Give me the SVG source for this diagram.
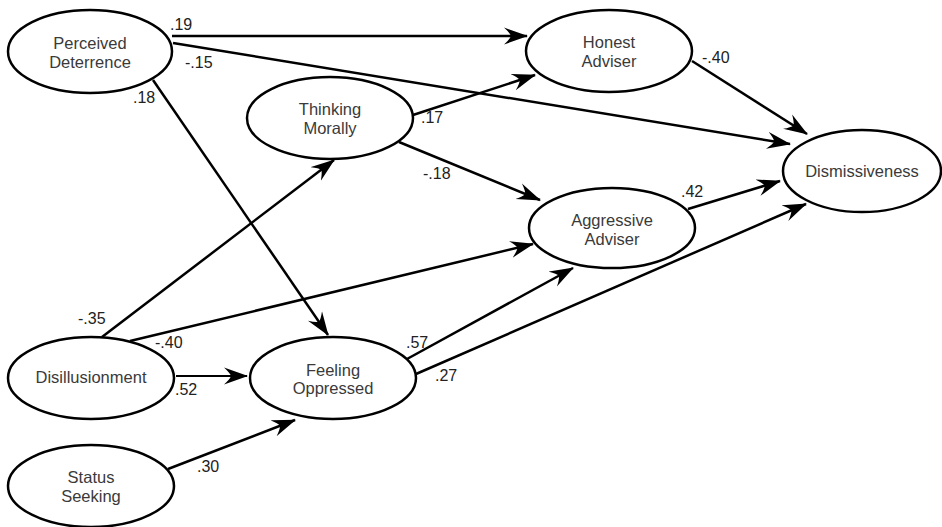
<svg xmlns="http://www.w3.org/2000/svg" width="942" height="527" viewBox="0 0 942 527">
<defs>
<marker id="ah" markerUnits="userSpaceOnUse" viewBox="0 0 24 18" refX="23" refY="9" markerWidth="24" markerHeight="18" orient="auto">
<path d="M24,9 L0,0.5 Q6,6 7,9 Q6,12 0,17.5 Z" fill="#000"/>
</marker>
<style>
.n ellipse{fill:#fff;stroke:#000;stroke-width:2.5}
.n text{font-family:"Liberation Sans",Arial,sans-serif;font-size:16.5px;fill:#3a3a3a;text-anchor:middle}
#edges line{stroke:#000;stroke-width:2.5;fill:none;marker-end:url(#ah)}
#edges line.thin{stroke-width:2}
#labels text{font-family:"Liberation Sans",Arial,sans-serif;font-size:16px;fill:#222}
</style>
</defs>
<rect width="942" height="527" fill="#fff"/>
<g id="edges">
<line x1="172" y1="36" x2="527" y2="36"/>
<line x1="173" y1="43" x2="790" y2="144"/>
<line x1="153" y1="80" x2="328" y2="335"/>
<line x1="413" y1="115" x2="535" y2="75"/>
<line x1="399" y1="142" x2="540" y2="200"/>
<line x1="692" y1="61" x2="807" y2="134"/>
<line x1="688" y1="209" x2="780" y2="181"/>
<line x1="416" y1="374" x2="806" y2="204"/>
<line x1="407" y1="359" x2="573" y2="268"/>
<line x1="102" y1="337" x2="334" y2="160"/>
<line x1="130" y1="341" x2="533" y2="244"/>
<line class="thin" x1="176" y1="376" x2="247" y2="376"/>
<line x1="168" y1="469" x2="295" y2="420"/>
</g>
<g id="node-perceived-deterrence" class="n">
<ellipse cx="90" cy="51.5" rx="82" ry="41.5"/>
<text x="90" y="49">Perceived</text>
<text x="90" y="68">Deterrence</text>
</g>
<g id="node-honest-adviser" class="n">
<ellipse cx="609" cy="51" rx="83" ry="41"/>
<text x="609" y="48">Honest</text>
<text x="609" y="67">Adviser</text>
</g>
<g id="node-thinking-morally" class="n">
<ellipse cx="330" cy="118" rx="83" ry="41"/>
<text x="330" y="115">Thinking</text>
<text x="330" y="134">Morally</text>
</g>
<g id="node-dismissiveness" class="n">
<ellipse cx="862" cy="171" rx="79" ry="41"/>
<text x="862" y="177">Dismissiveness</text>
</g>
<g id="node-aggressive-adviser" class="n">
<ellipse cx="612" cy="228" rx="83" ry="40"/>
<text x="612" y="226">Aggressive</text>
<text x="612" y="245">Adviser</text>
</g>
<g id="node-disillusionment" class="n">
<ellipse cx="91" cy="378" rx="83" ry="41"/>
<text x="91" y="383">Disillusionment</text>
</g>
<g id="node-feeling-oppressed" class="n">
<ellipse cx="333" cy="378" rx="83" ry="41"/>
<text x="333" y="376">Feeling</text>
<text x="333" y="394">Oppressed</text>
</g>
<g id="node-status-seeking" class="n">
<ellipse cx="91" cy="486" rx="83" ry="41"/>
<text x="91" y="483">Status</text>
<text x="91" y="502">Seeking</text>
</g>
<g id="labels">
<text x="170" y="30">.19</text>
<text x="185" y="68">-.15</text>
<text x="133" y="103">.18</text>
<text x="421" y="123">.17</text>
<text x="423" y="179">-.18</text>
<text x="702" y="63">-.40</text>
<text x="681" y="197">.42</text>
<text x="406" y="348">.57</text>
<text x="435" y="381">.27</text>
<text x="78" y="324">-.35</text>
<text x="155" y="348">-.40</text>
<text x="175" y="395">.52</text>
<text x="197" y="472">.30</text>
</g>
</svg>
